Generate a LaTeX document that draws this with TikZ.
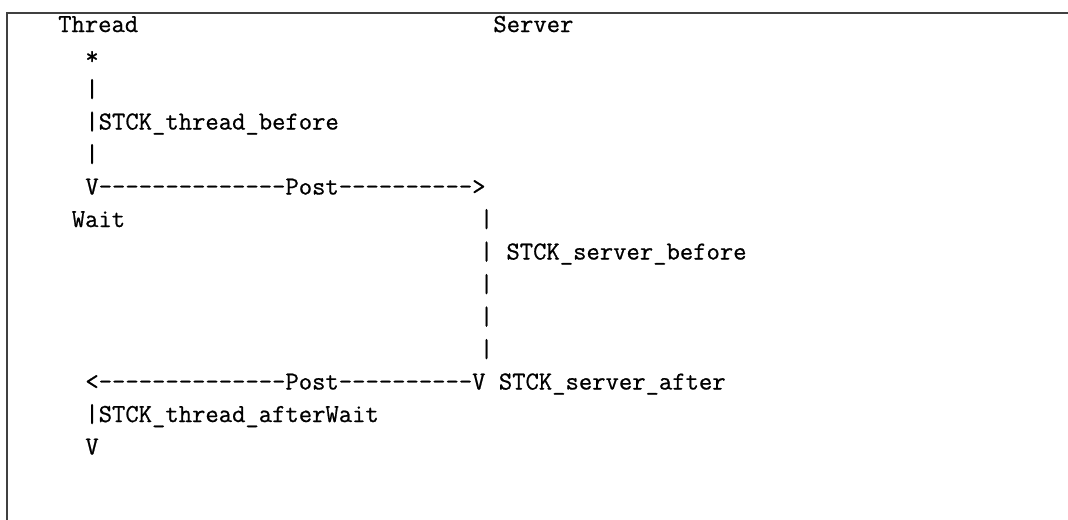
\documentclass[tikz,border=0pt]{standalone}
\usepackage{fontspec}
\setmonofont{Latin Modern Mono}[FakeBold=0.7]

\tikzset{
  ascii/.style={anchor=base west, inner sep=0pt,
    font=\ttfamily\fontsize{25.9}{30}\selectfont},
  frame/.style={line width=1.1pt, black!75}
}

\begin{document}
\begin{tikzpicture}[x=13.6pt, y=-32.5pt]
  \useasboundingbox (-4.265,-0.985) rectangle (74.265,14.985);
  \draw[frame] (-3.75,15.2) -- (-3.75,-0.585) -- (74.5,-0.585);

  % column heads
  \node[ascii] (thread) at (0,0)  {Thread};
  \node[ascii] (server) at (32,0) {Server};

  % thread side, before the post
  \node[ascii] (star)    at (2,1) {*};
  \node[ascii] (barA)    at (2,2) {|};
  \node[ascii] (tbefore) at (2,3) {|STCK\_thread\_before};
  \node[ascii] (barB)    at (2,4) {|};
  \node[ascii] (postgo)  at (2,5) {V--------------Post---------->};
  \node[ascii] (wait)    at (1,6) {Wait};

  % server side
  \node[ascii] (sbar)    at (31,6)  {|};
  \node[ascii] (sbefore) at (31,7)  {| STCK\_server\_before};
  \node[ascii] (sbarA)   at (31,8)  {|};
  \node[ascii] (sbarB)   at (31,9)  {|};
  \node[ascii] (sbarC)   at (31,10) {|};

  % back to the thread
  \node[ascii] (postback) at (2,11) {<--------------Post----------V STCK\_server\_after};
  \node[ascii] (tafter)   at (2,12) {|STCK\_thread\_afterWait};
  \node[ascii] (tend)     at (2,13) {V};
\end{tikzpicture}
\end{document}
